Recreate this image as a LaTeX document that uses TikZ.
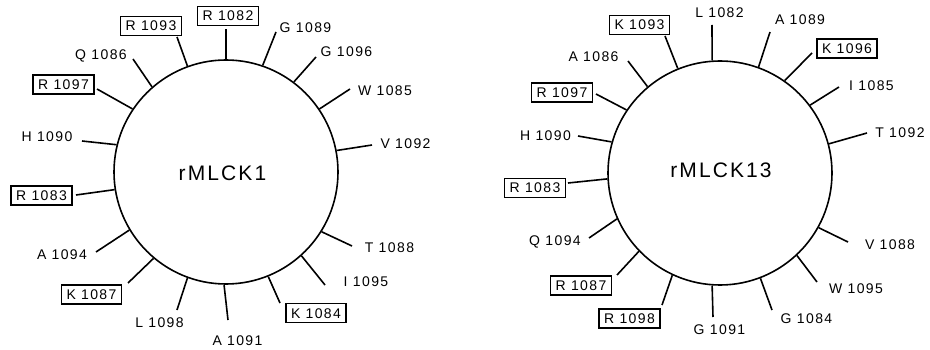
\documentclass[tikz,border=0pt]{standalone}
\usepackage{fontspec}
\setmainfont{Liberation Sans}[LetterSpace=10]
\begin{document}
\begin{tikzpicture}[x=1pt,y=-1pt,
  wheel/.style={circle,draw,line width=1.6pt,minimum size=224pt,inner sep=0pt},
  spoke/.style={line width=1.6pt},
  res/.style={font=\fontsize{14}{14}\selectfont,inner sep=0pt,text height=10pt,text depth=0pt},
  boxed/.style={res,draw,line width=1.3pt,inner xsep=5pt,inner ysep=4.5pt},
  wheelname/.style={font=\fontsize{21}{21}\selectfont,anchor=base}]
\useasboundingbox (0,0) rectangle (930,350);

% ---- helical wheel rMLCK1 ----
\node[wheel] (L) at (226,172) {};
\node[wheelname] (Lname) at (222.5,181) {rMLCK1};
% plain residues: name / angle / spoke end / label centre / text
\foreach \n/\a/\ex/\ey/\lx/\ly/\t in {
  1089/71/276/32/305.5/28/G 1089,
  1096/53/316/57/346.5/52/G 1096,
  1085/34/350/89/385/91/W 1085,
  1092/11/372/145/405.5/144/V 1092,
  1088/328/352/246/389.5/247/T 1088,
  1095/312/325/285/366/282/I 1095,
  1091/269/228/320/237.5/340/A 1091,
  1098/250/177/310/159.5/322/L 1098,
  1094/211/96/252/62/254/A 1094,
  1090/166/82/141/47/137/H 1090,
  1086/131/133/59/101/55/Q 1086}{
  \coordinate (lend\n) at (\ex,\ey);
  \node[res] (l\n) at (\lx,\ly) {\t};
  \draw[spoke] (L.\a) -- (lend\n);
}
% boxed residues
\foreach \n/\a/\ex/\ey/\lx/\ly/\t in {
  1082/90/226/29/228/16/R 1082,
  1084/292/280/303/316/313/K 1084,
  1087/230/128/283/91.5/294.5/K 1087,
  1083/189/76/195/41.5/195.5/R 1083,
  1097/146/97/89/63.5/84.5/R 1097,
  1093/110/177/37/151/26/R 1093}{
  \coordinate (lend\n) at (\ex,\ey);
  \node[boxed] (l\n) at (\lx,\ly) {\t};
  \draw[spoke] (L.\a) -- (lend\n);
}

% ---- helical wheel rMLCK13 ----
\node[wheel] (R) at (720,173) {};
\node[wheelname] (Rname) at (721,178) {rMLCK13};
\foreach \n/\a/\ex/\ey/\lx/\ly/\t in {
  1082/94/712/25/719.5/13/L 1082,
  1089/70/770/32/800/20/A 1089,
  1085/37/839/87/871.5/86/I 1085,
  1092/15/867/133/900/133/T 1092,
  1088/331/848/242/890/244/V 1088,
  1095/313/817/282/856/288/W 1095,
  1084/291/772/310/806.5/318/G 1084,
  1091/266/713/317/719.5/329/G 1091,
  1094/204/589/238/555/240/Q 1094,
  1090/164/578/136/545.5/136/H 1090,
  1086/130/628/61/593.5/57/A 1086}{
  \coordinate (rend\n) at (\ex,\ey);
  \node[res] (r\n) at (\lx,\ly) {\t};
  \draw[spoke] (R.\a) -- (rend\n);
}
\foreach \n/\a/\ex/\ey/\lx/\ly/\t in {
  1096/55/812/53/847/48.5/K 1096,
  1098/245/662/305/629.5/318.5/R 1098,
  1087/224/617/275/581/285.5/R 1087,
  1083/183/568/183/535/188/R 1083,
  1097/146/596/94/562/92.5/R 1097,
  1093/112/665/36/639.5/25/K 1093}{
  \coordinate (rend\n) at (\ex,\ey);
  \node[boxed] (r\n) at (\lx,\ly) {\t};
  \draw[spoke] (R.\a) -- (rend\n);
}
\end{tikzpicture}
\end{document}
